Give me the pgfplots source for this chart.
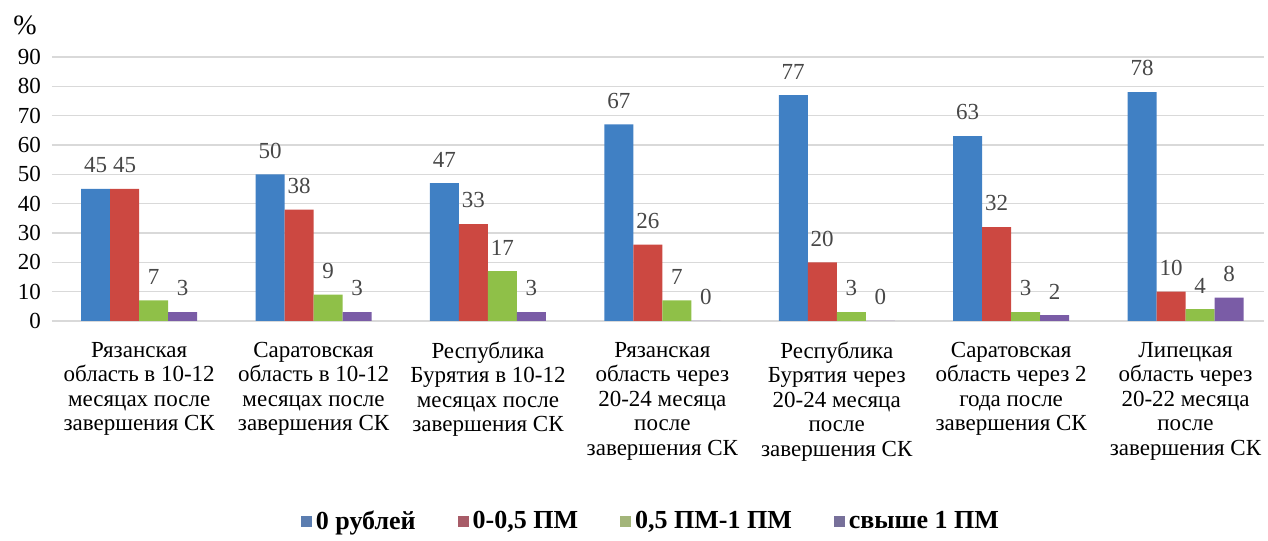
\documentclass[border=0pt]{standalone}
\usepackage{fontspec}
\setmainfont{Liberation Serif}
\newfontfamily\tnr{Liberation Serif}
\usepackage{pgfplots}
\pgfplotsset{compat=1.18}
\definecolor{cB}{HTML}{4080C4}
\definecolor{cR}{HTML}{CC4841}
\definecolor{cG}{HTML}{8FC048}
\definecolor{cP}{HTML}{7A5CA6}
\definecolor{lB}{HTML}{5B7DB0}
\definecolor{lR}{HTML}{A85C68}
\definecolor{lG}{HTML}{A3B57A}
\definecolor{lP}{HTML}{77709A}
\definecolor{lbl}{HTML}{474747}
\begin{document}
\tnr
\begin{tikzpicture}[font=\tnr]
\begin{axis}[
  name=ax,
  scale only axis,
  width=606pt, height=132pt,
  ybar=0pt, bar width=14.5pt,
  xmin=-0.5, xmax=6.45,
  ymin=0, ymax=90,
  ytick={0,10,...,90},
  xtick={0,...,6},
  xticklabels={
    {Рязанская\\область в 10-12\\месяцах после\\завершения СК},
    {Саратовская\\область в 10-12\\месяцах после\\завершения СК},
    {Республика\\Бурятия в 10-12\\месяцах после\\завершения СК},
    {Рязанская\\область через\\20-24 месяца\\после\\завершения СК},
    {Республика\\Бурятия через\\20-24 месяца\\после\\завершения СК},
    {Саратовская\\область через 2\\года после\\завершения СК},
    {Липецкая\\область через\\20-22 месяца\\после\\завершения СК}},
  xticklabel style={align=center, anchor=north, yshift=-7pt, font=\tnr\fontsize{11.5}{12.25}\selectfont},
  yticklabel style={font=\tnr\fontsize{11.5}{12}\selectfont, xshift=-2pt},
  /pgf/number format/assume math mode=true,
  axis line style={draw=none},
  major tick length=0pt,
  ymajorgrids,
  grid style={draw=gray!30, line width=0.6pt},
  clip=false,
  nodes near coords,
  every node near coord/.append style={font=\tnr\fontsize{11.5}{12}\selectfont, text=lbl, anchor=south, yshift=4.5pt},
  legend columns=4,
  legend style={at={(0.495,-0.761)}, anchor=center, draw=none, font=\tnr\bfseries\fontsize{13}{14}\selectfont,
    /tikz/every even column/.append style={column sep=19pt}},
  legend image code/.code={\fill[#1] (0pt,-2.5pt) rectangle (5.5pt,3pt);},
]
\addplot[draw=none, fill=cB, legend image code/.code={\fill[lB] (0pt,-2.5pt) rectangle (5.5pt,3pt);}] coordinates {(0,45) (1,50) (2,47) (3,67) (4,77) (5,63) (6,78)};
\addplot[draw=none, fill=cR, legend image code/.code={\fill[lR] (0pt,-2.5pt) rectangle (5.5pt,3pt);}] coordinates {(0,45) (1,38) (2,33) (3,26) (4,20) (5,32) (6,10)};
\addplot[draw=none, fill=cG, legend image code/.code={\fill[lG] (0pt,-2.5pt) rectangle (5.5pt,3pt);}] coordinates {(0,7) (1,9) (2,17) (3,7) (4,3) (5,3) (6,4)};
\addplot[draw=none, fill=cP, legend image code/.code={\fill[lP] (0pt,-2.5pt) rectangle (5.5pt,3pt);}] coordinates {(0,3) (1,3) (2,3) (3,0) (4,0) (5,2) (6,8)};
\legend{{0 рублей}, {0-0,5 ПМ}, {0,5 ПМ-1 ПМ}, {свыше 1 ПМ}}
\node[anchor=center, font=\tnr\fontsize{14}{15}\selectfont] at ([xshift=-13.5pt,yshift=16pt]rel axis cs:0,1) {\%};
\end{axis}
\path ([xshift=-26pt,yshift=-108pt]ax.south west) rectangle ([xshift=2pt,yshift=28.5pt]ax.north east);
\end{tikzpicture}
\end{document}
